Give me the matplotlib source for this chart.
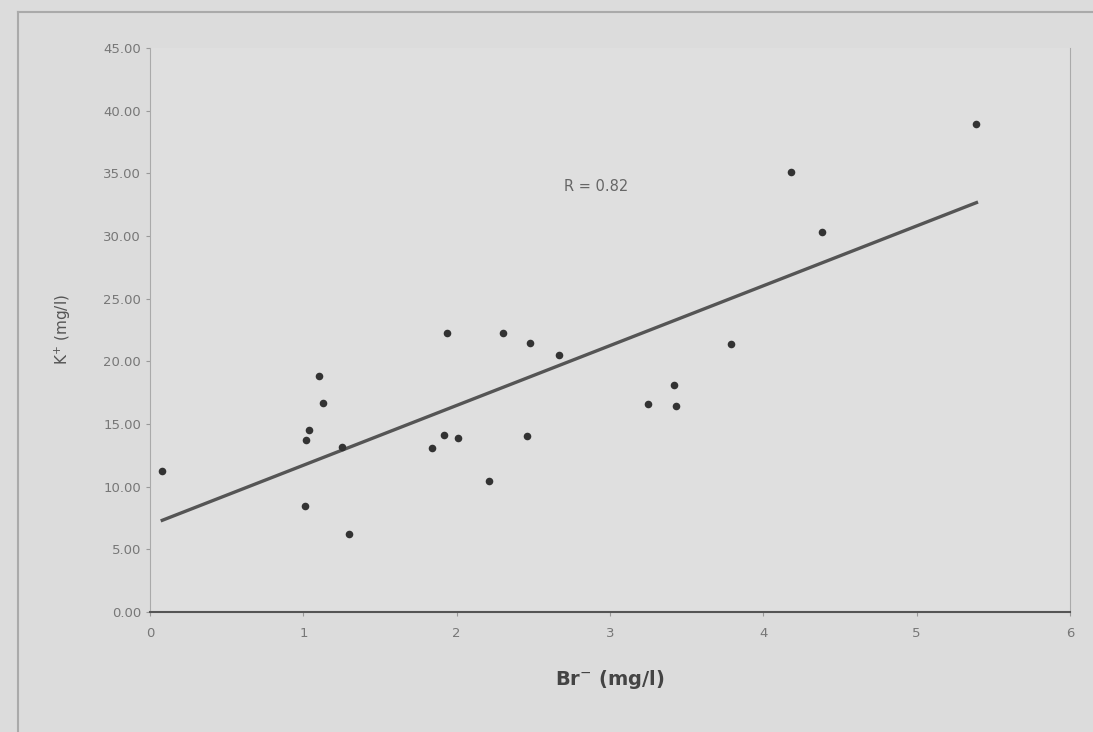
import numpy as np
import matplotlib
matplotlib.use("Agg")
import matplotlib.pyplot as plt

br = [0.08, 1.01, 1.02, 1.04, 1.10, 1.13, 1.25, 1.30, 1.84, 1.92, 1.94, 2.01,
      2.21, 2.30, 2.46, 2.48, 2.67, 3.25, 3.42, 3.43, 3.79, 4.18, 4.38, 5.39]
k = [11.25, 8.46, 13.7, 14.5, 18.8, 16.7, 13.2, 6.2, 13.06, 14.1, 22.3, 13.9,
     10.45, 22.3, 14.07, 21.5, 20.5, 16.6, 18.1, 16.4, 21.4, 35.1, 30.35, 38.9]
y_ticks = [0, 5, 10, 15, 20, 25, 30, 35, 40, 45]
x_ticks = [0, 1, 2, 3, 4, 5, 6]
r_text = "R = 0.82"

bg = "#dcdcdc"
fig = plt.figure(figsize=(10.93, 7.32), dpi=100, facecolor=bg)
ax = fig.add_axes([150/1093, 1-612/732, 920/1093, 564/732])
ax.set_facecolor("#dfdfdf")

ax.scatter(br, k, s=30, color="#333333", zorder=3, linewidths=0)
coef = np.polyfit(br, k, 1)
xs = np.array([min(br), max(br)])
ax.plot(xs, np.polyval(coef, xs), color="#555555", lw=2.4, zorder=2)

ax.set_xlim(0, 6)
ax.set_ylim(0, 45)
ax.set_xticks(x_ticks)
ax.set_xticklabels([str(t) for t in x_ticks])
ax.set_yticks(y_ticks)
ax.set_yticklabels([f"{t:.2f}" for t in y_ticks])
ax.tick_params(colors="#999999", labelcolor="#777777", labelsize=9.5, length=3)
ax.tick_params(axis="x", pad=8)
for s in ["left", "right", "top"]:
    ax.spines[s].set_color("#aaaaaa")
ax.spines["top"].set_visible(False)
ax.spines["bottom"].set_color("#555555")
ax.spines["bottom"].set_linewidth(1.5)

ax.set_xlabel("Br$^{-}$ (mg/l)", fontsize=14, color="#444444", labelpad=20,
              fontweight="bold")
ax.set_ylabel("K$^{+}$ (mg/l)", fontsize=11, color="#555555", labelpad=22)
ax.text(0.485, 0.755, r_text, transform=ax.transAxes, fontsize=10.5,
        color="#666666", ha="center", va="center")

# outer frame lines
fig.add_artist(plt.Line2D([18/1093, 1], [1-12/732, 1-12/732], color="#aaaaaa", lw=1.5))
fig.add_artist(plt.Line2D([18/1093, 18/1093], [0, 1-12/732], color="#aaaaaa", lw=1.5))

fig.savefig("out.png", dpi=100, facecolor=bg)
